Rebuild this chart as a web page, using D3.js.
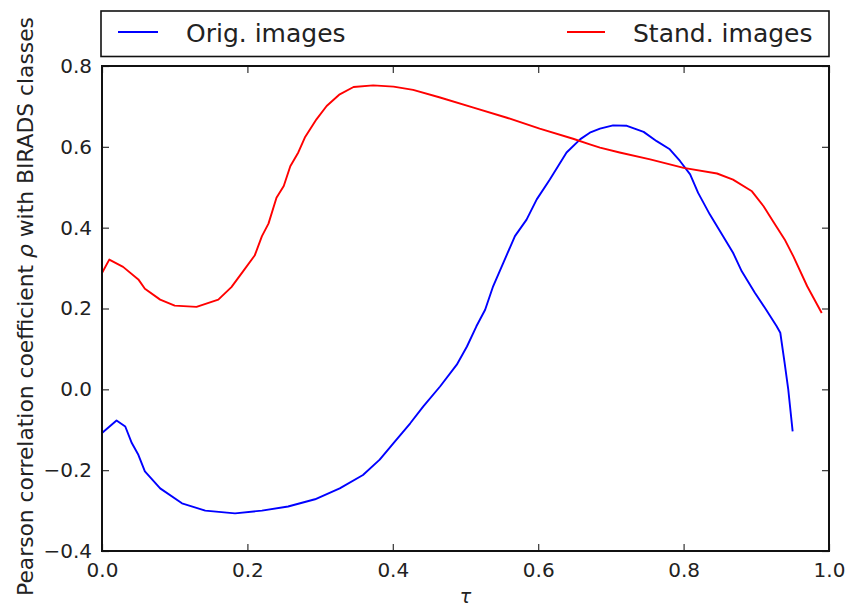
<!DOCTYPE html>
<html>
<head>
<meta charset="utf-8">
<script src="https://cdn.jsdelivr.net/npm/d3@7"></script>
<style>
  html, body { margin: 0; padding: 0; background: #fff; }
  svg { display: block; font-family: "DejaVu Sans", sans-serif; }
</style>
</head>
<body>
<svg id="chart" width="850" height="608"></svg>
<script>
// Threshold tau and the correlation with BIRADS classes for each image set
const origTau = [0, 0.02, 0.032, 0.041, 0.05, 0.059, 0.08, 0.11, 0.142, 0.183, 0.22, 0.256, 0.293, 0.327,
  0.359, 0.382, 0.401, 0.424, 0.442, 0.465, 0.488, 0.502, 0.515, 0.527, 0.538, 0.552, 0.568, 0.584,
  0.598, 0.616, 0.639, 0.658, 0.671, 0.685, 0.703, 0.722, 0.745, 0.763, 0.781, 0.795, 0.809, 0.82,
  0.836, 0.857, 0.868, 0.88, 0.898, 0.912, 0.928, 0.933, 0.939, 0.944, 0.95];
const origRho = [-0.108, -0.077, -0.092, -0.133, -0.162, -0.203, -0.245, -0.282, -0.300, -0.307, -0.300,
  -0.290, -0.272, -0.245, -0.212, -0.174, -0.133, -0.084, -0.042, 0.007, 0.061, 0.106, 0.156, 0.197,
  0.255, 0.313, 0.379, 0.420, 0.470, 0.519, 0.586, 0.619, 0.635, 0.645, 0.653, 0.652, 0.637, 0.614,
  0.594, 0.565, 0.532, 0.486, 0.433, 0.371, 0.338, 0.292, 0.239, 0.201, 0.156, 0.140, 0.065, -0.001, -0.104];

const standTau = [0, 0.01, 0.029, 0.05, 0.059, 0.08, 0.1, 0.13, 0.16, 0.178, 0.194, 0.21, 0.22, 0.229,
  0.24, 0.25, 0.259, 0.27, 0.279, 0.295, 0.309, 0.327, 0.346, 0.373, 0.401, 0.428, 0.465, 0.511,
  0.557, 0.602, 0.648, 0.671, 0.685, 0.712, 0.754, 0.8, 0.846, 0.868, 0.894, 0.91, 0.923, 0.939,
  0.951, 0.97, 0.99];
const standRho = [0.288, 0.321, 0.303, 0.272, 0.249, 0.222, 0.207, 0.204, 0.222, 0.253, 0.292, 0.331,
  0.379, 0.410, 0.474, 0.503, 0.552, 0.586, 0.623, 0.668, 0.701, 0.730, 0.748, 0.752, 0.749, 0.741,
  0.722, 0.697, 0.672, 0.645, 0.620, 0.606, 0.598, 0.586, 0.569, 0.548, 0.534, 0.519, 0.490, 0.453,
  0.416, 0.371, 0.329, 0.255, 0.189];

const seriesNames = ["Orig. images", "Stand. images"];
const seriesColors = ["#0000ff", "#ff0000"];
const xTicks = [0.0, 0.2, 0.4, 0.6, 0.8, 1.0];
const yTicks = [-0.4, -0.2, 0.0, 0.2, 0.4, 0.6, 0.8];

const svg = d3.select("#chart");
const plot = { left: 102, right: 829, top: 66, bottom: 551 };

const x = d3.scaleLinear().domain([0, 1]).range([plot.left, plot.right]);
const y = d3.scaleLinear().domain([-0.4, 0.8]).range([plot.bottom, plot.top]);

const fmt = v => (v < 0 ? "\u2212" : "") + Math.abs(v).toFixed(1);
const frameColor = "#111";

// Curves
const series = [
  { name: seriesNames[0], color: seriesColors[0], pts: origTau.map((t, i) => [t, origRho[i]]) },
  { name: seriesNames[1], color: seriesColors[1], pts: standTau.map((t, i) => [t, standRho[i]]) }
];
const line = d3.line().x(d => x(d[0])).y(d => y(d[1]));

svg.append("g").selectAll("path").data(series).join("path")
  .attr("d", d => line(d.pts))
  .attr("fill", "none")
  .attr("stroke", d => d.color)
  .attr("stroke-width", 1.9)
  .attr("stroke-linejoin", "round");

// Axes with inward ticks on all four sides
const tickLen = 7;
const axisBottom = d3.axisBottom(x).tickValues(xTicks).tickFormat(fmt).tickSizeInner(-tickLen).tickSizeOuter(0).tickPadding(12);
const axisTop = d3.axisTop(x).tickValues(xTicks).tickFormat("").tickSizeInner(-tickLen).tickSizeOuter(0);
const axisLeft = d3.axisLeft(y).tickValues(yTicks).tickFormat(fmt).tickSizeInner(-tickLen).tickSizeOuter(0).tickPadding(10);
const axisRight = d3.axisRight(y).tickValues(yTicks).tickFormat("").tickSizeInner(-tickLen).tickSizeOuter(0);

function styleAxis(g) {
  g.select(".domain").remove();
  g.selectAll(".tick line").attr("stroke", "#333").attr("stroke-width", 1.2);
  g.selectAll(".tick text").attr("fill", "#222").attr("font-size", 20)
    .attr("font-family", "DejaVu Sans, sans-serif");
}
svg.append("g").attr("transform", `translate(0,${plot.bottom})`).call(axisBottom).call(styleAxis);
svg.append("g").attr("transform", `translate(0,${plot.top})`).call(axisTop).call(styleAxis);
svg.append("g").attr("transform", `translate(${plot.left},0)`).call(axisLeft).call(styleAxis);
svg.append("g").attr("transform", `translate(${plot.right},0)`).call(axisRight).call(styleAxis);

// Frame
svg.append("rect")
  .attr("x", plot.left).attr("y", plot.top)
  .attr("width", plot.right - plot.left).attr("height", plot.bottom - plot.top)
  .attr("fill", "none").attr("stroke", frameColor).attr("stroke-width", 2);

// Axis titles
svg.append("text")
  .attr("transform", `translate(33,${(595 + 18) / 2}) rotate(-90)`)
  .attr("text-anchor", "middle")
  .attr("font-size", 21.8)
  .attr("fill", "#222")
  .call(t => {
    t.append("tspan").text("Pearson correlation coefficient ");
    t.append("tspan").attr("font-style", "italic").text("\u03C1");
    t.append("tspan").text(" with BIRADS classes");
  });

svg.append("text")
  .attr("x", x(0.5)).attr("y", 603)
  .attr("text-anchor", "middle")
  .attr("font-size", 19)
  .attr("font-style", "italic")
  .attr("fill", "#222")
  .text("\u03C4");

// Legend box above the plot
const legend = { left: 101, right: 829, top: 11, bottom: 56.5 };
svg.append("rect")
  .attr("x", legend.left).attr("y", legend.top)
  .attr("width", legend.right - legend.left).attr("height", legend.bottom - legend.top)
  .attr("fill", "#fff").attr("stroke", frameColor).attr("stroke-width", 1.6);

const legendItems = [
  { name: seriesNames[0], color: seriesColors[0], x0: 118, x1: 158, tx: 186 },
  { name: seriesNames[1], color: seriesColors[1], x0: 567, x1: 605, tx: 633 }
];
const li = svg.append("g").selectAll("g").data(legendItems).join("g");
li.append("line")
  .attr("x1", d => d.x0).attr("x2", d => d.x1)
  .attr("y1", 32).attr("y2", 32)
  .attr("stroke", d => d.color).attr("stroke-width", 1.9);
li.append("text")
  .attr("x", d => d.tx).attr("y", 41.5)
  .attr("font-size", 25)
  .attr("fill", "#222")
  .text(d => d.name);
</script>
</body>
</html>
